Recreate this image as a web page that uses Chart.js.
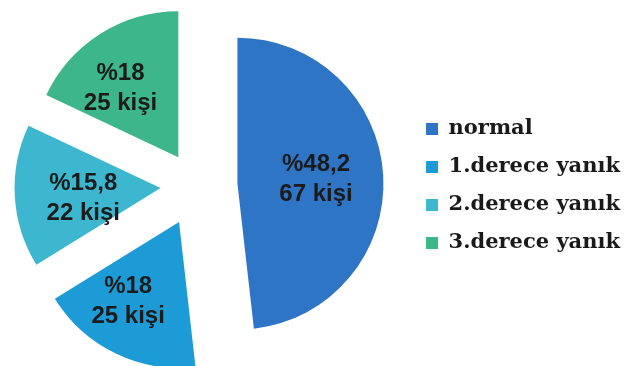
<!DOCTYPE html>
<html lang="tr">
<head>
<meta charset="utf-8">
<title>Yanık dağılımı</title>
<script src="https://cdn.jsdelivr.net/npm/chart.js@4.4.1/dist/chart.umd.min.js"></script>
<style>
  html, body { margin: 0; padding: 0; background: #fff; }
  #frame { width: 624px; height: 366px; position: relative; overflow: hidden; }
  #wrap { width: 646px; height: 366px; position: absolute; left: -16px; top: 0; }
</style>
</head>
<body>
<div id="frame"><div id="wrap"><canvas id="burn-chart"></canvas></div></div>
<script>
const categories = ['normal', '1.derece yanık', '2.derece yanık', '3.derece yanık'];
const personCounts = [67, 25, 22, 25];
const percentLabels = ['%48,2', '%18', '%15,8', '%18'];

const sliceColors = ['#2E75C6', '#1D9BD7', '#3CB7CF', '#3DB68B'];
const sliceOffsets = [164, 160, 144, 136];
const pieRadius = 146;
const labelRadius = [0.82, 0.92, 0.78, 0.85];
const labelTurn = [0, 4.7, -2.8, -5.4]; // degrees, clockwise

// chart.js grows the radius of wide exploded slices, keep every slice the same size
const sameRadius = {
    id: 'sameRadius',
    afterDatasetsUpdate(chart) {
        chart.getDatasetMeta(0).data.forEach(arc => {
            const push = (arc.options.offset || 0) / 4;
            const fix = 1 - Math.sin(Math.min(Math.PI, arc.circumference));
            const grow = push * fix;
            arc.outerRadius = pieRadius - grow;
            const narrow = grow / (2 * Math.PI * pieRadius);
            arc.startAngle -= narrow;
            arc.endAngle += narrow;
        });
    }
};

// writes "%xx" and "nn kişi" inside each slice
const sliceLabels = {
    id: 'sliceLabels',
    afterDatasetsDraw(chart) {
        const ctx = chart.ctx;
        const arcs = chart.getDatasetMeta(0).data;
        ctx.save();
        ctx.font = 'bold 24px "Liberation Sans", Arial, sans-serif';
        ctx.fillStyle = '#1b1b1b';
        ctx.textAlign = 'center';
        ctx.textBaseline = 'middle';
        arcs.forEach((arc, i) => {
            const mid = (arc.startAngle + arc.endAngle) / 2 + labelTurn[i] * Math.PI / 180;
            const r = pieRadius * labelRadius[i];
            const x = arc.x + Math.cos(mid) * r;
            const y = arc.y + Math.sin(mid) * r;
            ctx.fillText(percentLabels[i], x, y - 15);
            ctx.fillText(personCounts[i] + ' kişi', x, y + 15);
        });
        ctx.restore();
    }
};

new Chart(document.getElementById('burn-chart'), {
    type: 'pie',
    data: {
        labels: categories,
        datasets: [{
            data: personCounts,
            backgroundColor: sliceColors,
            borderWidth: 0,
            offset: sliceOffsets,
            hoverOffset: 0,
            clip: false
        }]
    },
    options: {
        responsive: true,
        maintainAspectRatio: false,
        animation: false,
        radius: pieRadius,
        layout: { padding: { top: 6 } },
        plugins: {
            tooltip: { enabled: false },
            legend: {
                position: 'right',
                labels: {
                    boxWidth: 12,
                    boxHeight: 12,
                    padding: 17,
                    color: '#1a1a1a',
                    font: { family: '"DejaVu Serif", serif', size: 21, weight: 'bold' }
                }
            }
        }
    },
    plugins: [sameRadius, sliceLabels]
});
</script>
</body>
</html>
